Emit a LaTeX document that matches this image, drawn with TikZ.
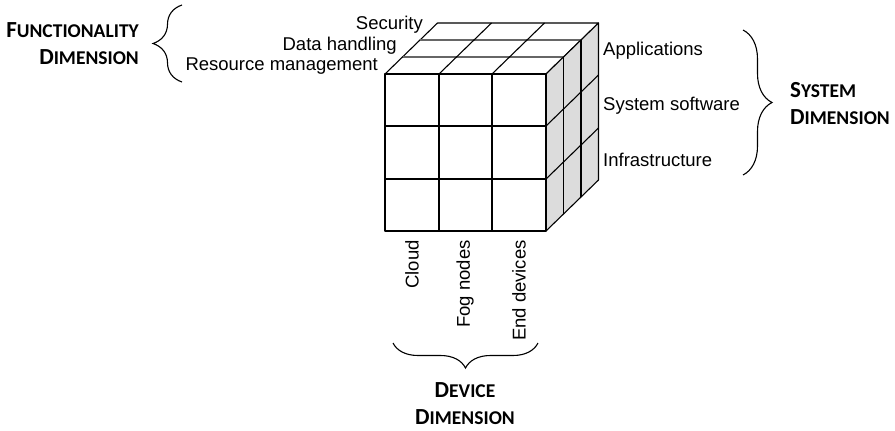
\documentclass[tikz,border=0pt]{standalone}
\usepackage{fontspec}
\setmainfont{Liberation Sans}
\newfontfamily\dimfont{Carlito}
\usepackage{tikz}
\usetikzlibrary{decorations.pathreplacing}
\definecolor{sidegray}{RGB}{220,220,220}
\newcommand{\dimword}[2]{{\fontsize{23}{27}\selectfont #1}{\fontsize{19.5}{27}\selectfont #2}}

\begin{document}
\begin{tikzpicture}[x=1pt, y=-1pt,
  cubeline/.style={black, line width=1.1pt, line join=round},
  topline/.style={black!60, line width=1.1pt},
  lbl/.style={inner sep=0pt, font=\fontsize{18.5}{22}\selectfont},
  dimlbl/.style={inner sep=0pt, font=\dimfont\bfseries\fontsize{19.5}{27}\selectfont},
  dimbrace/.style={decorate, decoration={brace, amplitude=#1}, line width=1.1pt}]
\useasboundingbox (0,0) rectangle (895,431);
% top face
\draw[cubeline,fill=white] (385,74) -- (437.5,23) -- (598.5,23) -- (546,74) -- cycle;
\draw[topline] (402.5,57) -- (563.5,57);
\draw[topline] (420,40) -- (581,40);
\draw[cubeline] (439,74) -- (491.5,23);
\draw[cubeline] (492,74) -- (544.5,23);
% side face
\draw[cubeline,fill=sidegray] (546,74) -- (598.5,23) -- (598.5,180) -- (546,231) -- cycle;
\draw[cubeline] (563.5,57) -- (563.5,214);
\draw[cubeline] (581,40) -- (581,197);
\draw[cubeline] (546,126) -- (598.5,75);
\draw[cubeline] (546,179) -- (598.5,128);
% front face
\draw[cubeline,fill=white] (385,74) rectangle (546,231);
\draw[cubeline] (439,74) -- (439,231);
\draw[cubeline] (492,74) -- (492,231);
\draw[cubeline] (385,126) -- (546,126);
\draw[cubeline] (385,179) -- (546,179);
% functionality
\node[lbl, anchor=east] (security) at (423,25) {Security};
\node[lbl, anchor=east] (datahand) at (397,46) {Data handling};
\node[lbl, anchor=east] (resmgmt) at (378,66) {Resource management};
\coordinate (fbrlo) at (182,82);
\coordinate (fbrhi) at (182,5);
\draw[dimbrace=29pt] (fbrlo) -- (fbrhi);
\node[dimlbl, align=right, anchor=east] (funcdim) at (139,44) {\dimword{F}{UNCTIONALITY}\\\dimword{D}{IMENSION}};
% system
\node[lbl, anchor=west] (apps) at (603,51) {Applications};
\node[lbl, anchor=west] (syssoft) at (603,106) {System software};
\node[lbl, anchor=west] (infra) at (603,160) {Infrastructure};
\coordinate (sbrhi) at (743,30);
\coordinate (sbrlo) at (743,175);
\draw[dimbrace=29pt] (sbrhi) -- (sbrlo);
\node[dimlbl, align=left, anchor=west] (sysdim) at (790,104) {\dimword{S}{YSTEM}\\\dimword{D}{IMENSION}};
% device
\node[lbl, rotate=90, anchor=east] (cloud) at (412,240) {Cloud};
\node[lbl, rotate=90, anchor=east] (fog) at (465,240) {Fog nodes};
\node[lbl, rotate=90, anchor=east] (enddev) at (519,240) {End devices};
\coordinate (dbrr) at (538,343);
\coordinate (dbrl) at (393,343);
\draw[dimbrace=25pt] (dbrr) -- (dbrl);
\node[dimlbl, align=center] (devdim) at (465,404) {\dimword{D}{EVICE}\\\dimword{D}{IMENSION}};
\end{tikzpicture}
\end{document}
